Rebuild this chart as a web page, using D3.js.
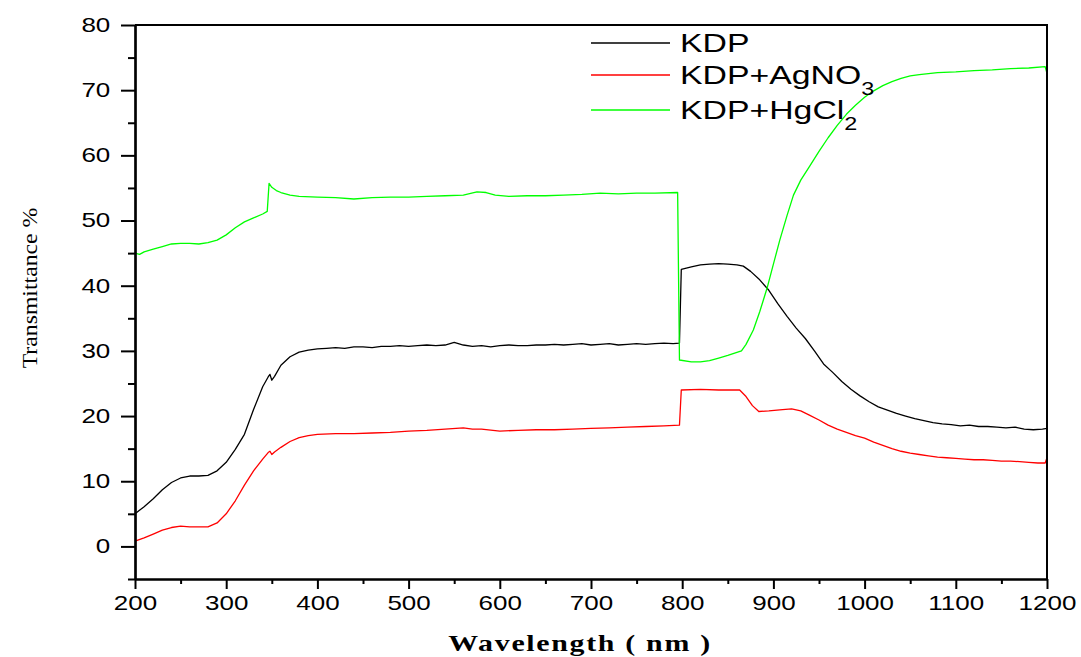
<!DOCTYPE html>
<html>
<head>
<meta charset="utf-8">
<script src="https://cdn.jsdelivr.net/npm/d3@7.9.0/dist/d3.min.js"></script>
<style>
  body { margin: 0; background: #fff; }
  svg { display: block; }
  .tick text { font-family: "Liberation Sans", Arial, sans-serif; font-size: 20px; fill: #000; }
</style>
</head>
<body>
<div id="chart"></div>
<script>
// -------- data --------
const seriesNames = ['KDP', 'KDP+AgNO3', 'KDP+HgCl2'];
const seriesColors = ['#000000', '#ff0000', '#00ff00'];

const kdp = [
  [200,5.0],[210,6.1],[220,7.3],[230,8.7],[240,9.8],[250,10.5],[260,10.8],[270,10.8],[280,10.9],[290,11.6],
  [300,12.9],[310,14.9],[320,17.2],[330,21.0],[340,24.5],[346,26.0],[348,26.4],[350,25.5],[353,26.1],[360,27.8],
  [370,29.1],[380,29.8],[390,30.1],[400,30.3],[410,30.4],[420,30.5],[430,30.4],[440,30.6],[450,30.6],[460,30.5],
  [470,30.7],[480,30.7],[490,30.8],[500,30.7],[510,30.8],[520,30.9],[530,30.8],[540,30.9],[550,31.3],[560,30.9],
  [570,30.7],[580,30.8],[590,30.6],[600,30.8],[610,30.9],[620,30.8],[630,30.8],[640,30.9],[650,30.9],[660,31.0],
  [670,30.9],[680,31.0],[690,31.1],[700,30.9],[710,31.0],[720,31.1],[730,30.9],[740,31.0],[750,31.1],[760,31.0],
  [770,31.1],[780,31.2],[790,31.1],[797,31.2],[799,42.5],[810,42.9],[820,43.2],[830,43.3],[840,43.4],[850,43.3],
  [860,43.2],[867,43.0],[875,42.2],[885,40.9],[895,39.3],[905,37.2],[915,35.3],[925,33.5],[935,31.9],[945,30.0],
  [955,28.0],[965,26.7],[975,25.3],[985,24.1],[995,23.1],[1005,22.2],[1015,21.4],[1025,20.9],[1035,20.4],[1045,20.0],
  [1055,19.6],[1065,19.3],[1075,19.0],[1085,18.8],[1095,18.7],[1105,18.5],[1115,18.6],[1125,18.4],[1135,18.4],[1145,18.3],
  [1155,18.2],[1165,18.3],[1175,18.0],[1185,17.9],[1195,18.0],[1200,18.1]
];

const kdpAg = [
  [200,0.8],[210,1.3],[220,1.9],[230,2.5],[240,2.9],[250,3.1],[260,3.0],[270,3.0],[280,3.0],[290,3.6],
  [300,5.0],[310,7.0],[320,9.4],[330,11.6],[340,13.4],[346,14.4],[348,14.6],[350,14.1],[353,14.5],[360,15.2],
  [370,16.1],[380,16.7],[390,17.0],[400,17.2],[420,17.3],[440,17.3],[460,17.4],[480,17.5],[500,17.7],[520,17.8],
  [540,18.0],[560,18.2],[570,18.0],[580,18.0],[600,17.7],[620,17.8],[640,17.9],[660,17.9],[680,18.0],[700,18.1],
  [720,18.2],[740,18.3],[760,18.4],[780,18.5],[797,18.6],[799,24.0],[820,24.1],[840,24.0],[863,24.0],[870,23.0],
  [877,21.6],[884,20.7],[895,20.8],[910,21.0],[920,21.1],[930,20.8],[940,20.1],[950,19.4],[960,18.6],[970,18.0],
  [980,17.5],[990,17.0],[1000,16.6],[1010,16.0],[1020,15.5],[1030,15.0],[1040,14.6],[1050,14.3],[1060,14.1],[1070,13.9],
  [1080,13.7],[1090,13.6],[1100,13.5],[1110,13.4],[1120,13.3],[1130,13.3],[1140,13.2],[1150,13.1],[1160,13.1],[1170,13.0],
  [1180,12.9],[1190,12.8],[1198,12.8],[1200,13.6]
];

const kdpHg = [
  [200,45.0],[205,44.8],[210,45.2],[220,45.6],[230,46.0],[240,46.4],[250,46.5],[260,46.5],[270,46.4],[280,46.6],
  [290,47.0],[300,47.8],[310,48.9],[320,49.8],[330,50.4],[340,51.0],[345,51.4],[347,55.7],[350,55.1],[355,54.6],
  [360,54.3],[370,53.9],[380,53.7],[400,53.6],[420,53.5],[440,53.3],[460,53.5],[480,53.6],[500,53.6],[520,53.7],
  [540,53.8],[560,53.9],[575,54.4],[585,54.3],[595,53.9],[610,53.7],[630,53.8],[650,53.8],[670,53.9],[690,54.0],
  [710,54.2],[730,54.1],[750,54.2],[770,54.2],[795,54.3],[797,28.6],[810,28.3],[820,28.3],[830,28.5],[840,28.9],
  [850,29.3],[865,30.0],[870,31.0],[878,33.2],[885,36.0],[893,39.6],[900,43.3],[907,47.0],[915,50.8],[922,53.9],
  [930,56.2],[940,58.4],[950,60.6],[960,62.7],[970,64.6],[980,66.3],[990,67.7],[1000,68.9],[1010,69.9],[1020,70.7],
  [1030,71.3],[1040,71.8],[1050,72.2],[1060,72.4],[1080,72.7],[1100,72.8],[1120,73.0],[1140,73.1],[1160,73.3],[1180,73.4],
  [1198,73.6],[1200,72.6]
];

const xMajorTicks = [200, 300, 400, 500, 600, 700, 800, 900, 1000, 1100, 1200];
const xMinorTicks = [250, 350, 450, 550, 650, 750, 850, 950, 1050, 1150];
const yMajorTicks = [0, 10, 20, 30, 40, 50, 60, 70, 80];
const yMinorTicks = [-5, 5, 15, 25, 35, 45, 55, 65, 75];

// -------- chart --------
const width = 1081;
const height = 657;
const area = { left: 135, right: 1047, top: 25, bottom: 579 };
const stretch = 1.3; // the original's text is drawn wide

const svg = d3.select('#chart').append('svg')
  .attr('width', width)
  .attr('height', height);

const x = d3.scaleLinear().domain([200, 1200]).range([area.left, area.right]);
const y = d3.scaleLinear().domain([-5, 80]).range([area.bottom, area.top]);

// curves
const line = d3.line().x(d => x(d[0])).y(d => y(d[1]));
[kdp, kdpAg, kdpHg].forEach((s, i) => {
  svg.append('path')
    .datum(s)
    .attr('fill', 'none')
    .attr('stroke', seriesColors[i])
    .attr('stroke-width', 1.3)
    .attr('stroke-linejoin', 'round')
    .attr('d', line);
});

// frame (top + right)
svg.append('path')
  .attr('d', `M${area.left},${area.top}H${area.right}V${area.bottom}`)
  .attr('fill', 'none')
  .attr('stroke', '#000')
  .attr('stroke-width', 2);

// axes
function styleAxis(g) {
  g.select('.domain').attr('stroke-width', 2.2);
  g.selectAll('.tick line').attr('stroke-width', 2);
}

svg.append('g')
  .attr('transform', `translate(0,${area.bottom})`)
  .call(d3.axisBottom(x).tickValues(xMinorTicks).tickSize(5).tickFormat('').tickSizeOuter(0))
  .call(styleAxis);
svg.append('g')
  .attr('transform', `translate(0,${area.bottom})`)
  .call(d3.axisBottom(x).tickValues(xMajorTicks).tickSize(10).tickPadding(7).tickFormat(d3.format('d')).tickSizeOuter(0))
  .call(styleAxis)
  .call(g => g.selectAll('.tick text').attr('transform', `scale(${stretch},1)`));

svg.append('g')
  .attr('transform', `translate(${area.left},0)`)
  .call(d3.axisLeft(y).tickValues(yMinorTicks).tickSize(7).tickFormat('').tickSizeOuter(0))
  .call(styleAxis);
svg.append('g')
  .attr('transform', `translate(${area.left},0)`)
  .call(d3.axisLeft(y).tickValues(yMajorTicks).tickSize(14).tickPadding(5).tickFormat(d3.format('d')).tickSizeOuter(0))
  .call(styleAxis)
  .call(g => g.selectAll('.tick text').attr('transform', `scale(${stretch},1)`));

// axis titles
svg.append('text')
  .attr('transform', `translate(37,288) rotate(-90) scale(1.08,1)`)
  .attr('text-anchor', 'middle')
  .style('font-family', '"Liberation Serif", "Times New Roman", serif')
  .style('font-size', '22px')
  .text('Transmittance %');

svg.append('text')
  .attr('transform', `translate(580,651) scale(${stretch},1)`)
  .attr('text-anchor', 'middle')
  .style('font-family', '"Liberation Serif", "Times New Roman", serif')
  .style('font-size', '23px')
  .style('font-weight', 'bold')
  .style('letter-spacing', '1.3px')
  .text('Wavelength ( nm )');

// legend
const legendRows = [
  { y: 43, main: 'KDP', sub: null },
  { y: 75, main: 'KDP+AgNO', sub: '3' },
  { y: 110, main: 'KDP+HgCl', sub: '2' }
];
const legend = svg.append('g');
legendRows.forEach((r, i) => {
  legend.append('line')
    .attr('x1', 591).attr('x2', 670)
    .attr('y1', r.y).attr('y2', r.y)
    .attr('stroke', seriesColors[i])
    .attr('stroke-width', 1.3);
  const t = legend.append('text')
    .attr('transform', `translate(680,${r.y + 9}) scale(${stretch},1)`)
    .style('font-family', '"Liberation Sans", Arial, sans-serif')
    .style('font-size', '26px')
    .attr('fill', '#000');
  t.append('tspan').text(r.main);
  if (r.sub) {
    t.append('tspan')
      .attr('dy', 11)
      .style('font-size', '18px')
      .text(r.sub);
  }
});
</script>
</body>
</html>
